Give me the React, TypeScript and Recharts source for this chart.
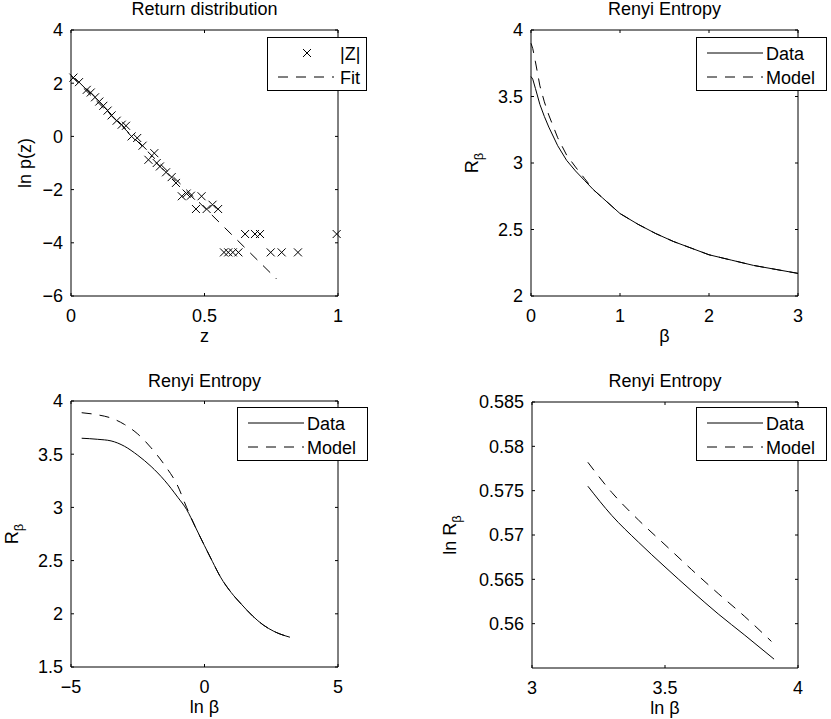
import React from 'react'
import { ComposedChart, Scatter, Line, XAxis, YAxis, Legend } from 'recharts'

const FONT = '"Liberation Sans", Arial, Helvetica, sans-serif'
const FS = 18
const DASH = '10 8'

// return distribution, |Z| histogram (ln of density) and linear fit
const zBins = [
  0.009, 0.03, 0.059, 0.074, 0.09, 0.106, 0.121, 0.137, 0.152, 0.171, 0.19, 0.206, 0.227, 0.248,
  0.268, 0.29, 0.312, 0.321, 0.333, 0.356, 0.377, 0.393, 0.415, 0.433, 0.449, 0.468, 0.489, 0.508,
  0.53, 0.551, 0.573, 0.589, 0.606, 0.627, 0.652, 0.689, 0.708, 0.748, 0.789, 0.85, 0.995,
]
const lnPz = [
  2.21, 2.04, 1.75, 1.65, 1.47, 1.31, 1.15, 0.97, 0.79, 0.59, 0.44, 0.4, 0.0, -0.06,
  -0.35, -0.88, -0.63, -1.0, -1.13, -1.35, -1.53, -1.75, -2.25, -2.15, -2.23, -2.73, -2.25, -2.73,
  -2.57, -2.73, -4.36, -4.36, -4.36, -4.36, -3.67, -3.67, -3.67, -4.36, -4.36, -4.36, -3.67,
]
const fitZ = [0, 0.77]
const fitLnP = [2.28, -5.36]

// Renyi entropy against beta
const beta = [0, 0.02, 0.05, 0.1, 0.15, 0.2, 0.3, 0.4, 0.5, 0.6, 0.7, 0.8, 0.9, 1.0, 1.2, 1.4, 1.6, 1.8, 2.0, 2.25, 2.5, 2.75, 3.0]
const rData = [3.65, 3.63, 3.56, 3.44, 3.35, 3.27, 3.13, 3.02, 2.94, 2.87, 2.8, 2.74, 2.68, 2.62, 2.54, 2.47, 2.41, 2.36, 2.31, 2.27, 2.23, 2.2, 2.17]
const rModel = [3.9, 3.86, 3.76, 3.58, 3.46, 3.36, 3.19, 3.06, 2.97, 2.885, 2.8, 2.74, 2.68, 2.62, 2.54, 2.47, 2.41, 2.36, 2.31, 2.27, 2.23, 2.2, 2.17]

// Renyi entropy against ln beta
const lnBeta = [-4.6, -4.0, -3.5, -3.0, -2.5, -2.0, -1.5, -1.0, -0.67, -0.35, 0, 0.3, 0.6, 1.0, 1.4, 1.8, 2.2, 2.6, 3.2]
const rDataLn = [3.65, 3.64, 3.625, 3.575, 3.49, 3.385, 3.255, 3.095, 2.98, 2.82, 2.64, 2.49, 2.345, 2.2, 2.085, 1.98, 1.895, 1.835, 1.78]
const rModelLn = [3.89, 3.87, 3.84, 3.78, 3.69, 3.56, 3.4, 3.2, 3.0, 2.82, 2.64, 2.49, 2.345, 2.2, 2.085, 1.98, 1.895, 1.835, 1.78]

// ln R against ln beta, tail
const lnBetaData = [3.21, 3.3, 3.4, 3.5, 3.6, 3.7, 3.8, 3.91]
const lnRData = [0.5755, 0.5722, 0.5692, 0.5664, 0.5637, 0.5611, 0.5587, 0.556]
const lnBetaModel = [3.21, 3.3, 3.4, 3.5, 3.6, 3.7, 3.8, 3.9]
const lnRModel = [0.5782, 0.5748, 0.5717, 0.5689, 0.5661, 0.5634, 0.5608, 0.558]

const zTicks = [0, 0.5, 1]
const lnPTicks = [-6, -4, -2, 0, 2, 4]
const betaTicks = [0, 1, 2, 3]
const rTicks = [2, 2.5, 3, 3.5, 4]
const lnBetaTicks = [-5, 0, 5]
const rLnTicks = [1.5, 2, 2.5, 3, 3.5, 4]
const tailTicks = [3, 3.5, 4]
const lnRTicks = [0.56, 0.565, 0.57, 0.575, 0.58, 0.585]

const fmt = (v: number) => (v < 0 ? '\u2212' + String(-v) : String(v))

const histRows = zBins.map((x, i) => ({ x, y: lnPz[i] }))
const fitRows = fitZ.map((x, i) => ({ x, y: fitLnP[i] }))
const betaRows = beta.map((x, i) => ({ x, data: rData[i], model: rModel[i] }))
const lnBetaRows = lnBeta.map((x, i) => ({ x, data: rDataLn[i], model: rModelLn[i] }))
const tailData = lnBetaData.map((x, i) => ({ x, y: lnRData[i] }))
const tailModel = lnBetaModel.map((x, i) => ({ x, y: lnRModel[i] }))

const Cross = (p: any) => {
  const { cx, cy } = p
  return <path d={`M${cx - 4},${cy - 4}L${cx + 4},${cy + 4}M${cx - 4},${cy + 4}L${cx + 4},${cy - 4}`} stroke="#000" strokeWidth={1} fill="none" />
}

// top and right axes close the box, ticks point inwards (MATLAB look)
function frame(xDomain: number[], xTicks: number[], yDomain: number[], yTicks: number[], yKey: string, title: string, titleY: number) {
  return [
    <XAxis
      key="top"
      xAxisId="top"
      orientation="top"
      mirror
      type="number"
      dataKey="x"
      domain={xDomain}
      ticks={xTicks}
      interval={0}
      allowDataOverflow
      tickSize={3}
      tickFormatter={() => ''}
      stroke="#000"
      label={(p: any) => (
        <text x={p.viewBox.x + p.viewBox.width / 2} y={titleY} textAnchor="middle" fontSize={FS} fill="#000">
          {title}
        </text>
      )}
    />,
    <YAxis
      key="right"
      yAxisId="right"
      orientation="right"
      mirror
      type="number"
      dataKey={yKey}
      domain={yDomain}
      ticks={yTicks}
      interval={0}
      allowDataOverflow
      tickSize={3}
      tickFormatter={() => ''}
      stroke="#000"
      width={4}
    />,
  ]
}

const xLabel = (content: React.ReactNode) => (p: any) => (
  <text x={p.viewBox.x + p.viewBox.width / 2} y={p.viewBox.y + 46} textAnchor="middle" fontSize={FS} fill="#000">
    {content}
  </text>
)

const yLabel = (dist: number, content: React.ReactNode) => (p: any) => {
  const x = p.viewBox.x + p.viewBox.width - dist
  const y = p.viewBox.y + p.viewBox.height / 2
  return (
    <text x={x} y={y} transform={`rotate(-90 ${x} ${y})`} textAnchor="middle" fontSize={FS} fill="#000">
      {content}
    </text>
  )
}

const Rb = (pre: string) => [
  <tspan key="a">{pre}R</tspan>,
  <tspan key="b" dy={5} fontSize={13}>β</tspan>,
]

const legendBox = (width: number, markX: number, textX: number) => (props: any) => {
  const items = props.payload || []
  return (
    <svg width={width} height={54} style={{ display: 'block', overflow: 'visible' }}>
      <rect x={0.5} y={0.5} width={width - 1} height={53} fill="#fff" stroke="#000" />
      {items.map((it: any, i: number) => {
        const cy = 16 + i * 24
        return (
          <g key={i}>
            {it.type === 'cross' ? (
              <Cross cx={markX} cy={cy} />
            ) : (
              <line x1={11} x2={67} y1={cy} y2={cy} stroke="#000" strokeDasharray={it.payload?.strokeDasharray} />
            )}
            <text x={textX} y={cy + 6.5} fontSize={FS} fill="#000">
              {it.value}
            </text>
          </g>
        )
      })}
    </svg>
  )
}

const order = ['|Z|', 'Fit', 'Data', 'Model']
const sorter = (it: any) => order.indexOf(it.value)

const axisCommon = {
  type: 'number' as const,
  interval: 0 as const,
  tickSize: -3,
  stroke: '#000',
  tick: { fill: '#000', fontSize: FS },
  tickFormatter: fmt,
}

export default function App() {
  return (
    <div style={{ position: 'fixed', left: 0, top: 0, width: 831, height: 719, background: '#fff', fontFamily: FONT }}>
      <div style={{ position: 'absolute', left: 0, top: 0 }}>
        <ComposedChart width={400} height={360} margin={{ top: 30, right: 62, bottom: 14, left: 0 }}>
          <XAxis {...axisCommon} dataKey="x" domain={[0, 1]} ticks={zTicks} height={50} tickMargin={16} label={xLabel('z')} />
          <YAxis {...axisCommon} dataKey="y" domain={[-6, 4]} ticks={lnPTicks} width={71} tickMargin={11} label={yLabel(40, 'ln p(z)')} />
          {frame([0, 1], zTicks, [-6, 4], lnPTicks, 'y', 'Return distribution', 15)}
          <Scatter name="|Z|" data={histRows} dataKey="y" shape={Cross} legendType="cross" isAnimationActive={false} />
          <Line name="Fit" data={fitRows} dataKey="y" type="linear" stroke="#000" strokeWidth={1} strokeDasharray={DASH} dot={false} activeDot={false} isAnimationActive={false} />
          <Legend layout="vertical" align="center" verticalAlign="middle" itemSorter={sorter} content={legendBox(100, 40, 73)} wrapperStyle={{ left: 267, top: 37, width: 100, height: 54 }} />
        </ComposedChart>
      </div>

      <div style={{ position: 'absolute', left: 440, top: 0 }}>
        <ComposedChart width={391} height={360} data={betaRows} margin={{ top: 30, right: 33, bottom: 14, left: 0 }}>
          <XAxis {...axisCommon} dataKey="x" domain={[0, 3]} ticks={betaTicks} height={50} tickMargin={16} label={xLabel('β')} />
          <YAxis {...axisCommon} domain={[2, 4]} ticks={rTicks} width={91} tickMargin={11} label={yLabel(53, Rb(''))} />
          {frame([0, 3], betaTicks, [2, 4], rTicks, 'data', 'Renyi Entropy', 15)}
          <Line name="Data" dataKey="data" type="linear" stroke="#000" strokeWidth={1} dot={false} activeDot={false} isAnimationActive={false} />
          <Line name="Model" dataKey="model" type="linear" stroke="#000" strokeWidth={1} strokeDasharray={DASH} dot={false} activeDot={false} isAnimationActive={false} />
          <Legend layout="vertical" align="center" verticalAlign="middle" itemSorter={sorter} content={legendBox(131, 40, 70)} wrapperStyle={{ left: 256, top: 37, width: 131, height: 54 }} />
        </ComposedChart>
      </div>

      <div style={{ position: 'absolute', left: 0, top: 360 }}>
        <ComposedChart width={400} height={359} data={lnBetaRows} margin={{ top: 41, right: 62, bottom: 2, left: 0 }}>
          <XAxis {...axisCommon} dataKey="x" domain={[-5, 5]} ticks={lnBetaTicks} height={50} tickMargin={16} label={xLabel('ln β')} />
          <YAxis {...axisCommon} domain={[1.5, 4]} ticks={rLnTicks} width={71} tickMargin={11} label={yLabel(53, Rb(''))} />
          {frame([-5, 5], lnBetaTicks, [1.5, 4], rLnTicks, 'data', 'Renyi Entropy', 27)}
          <Line name="Data" dataKey="data" type="monotone" stroke="#000" strokeWidth={1} dot={false} activeDot={false} isAnimationActive={false} />
          <Line name="Model" dataKey="model" type="monotone" stroke="#000" strokeWidth={1} strokeDasharray={DASH} dot={false} activeDot={false} isAnimationActive={false} />
          <Legend layout="vertical" align="center" verticalAlign="middle" itemSorter={sorter} content={legendBox(131, 40, 70)} wrapperStyle={{ left: 237, top: 47, width: 131, height: 54 }} />
        </ComposedChart>
      </div>

      <div style={{ position: 'absolute', left: 440, top: 360 }}>
        <ComposedChart width={391} height={359} margin={{ top: 42, right: 33, bottom: 1, left: 0 }}>
          <XAxis {...axisCommon} dataKey="x" domain={[3, 4]} ticks={tailTicks} height={50} tickMargin={16} label={xLabel('ln β')} />
          <YAxis {...axisCommon} dataKey="y" domain={[0.555, 0.585]} ticks={lnRTicks} width={92} tickMargin={11} label={yLabel(76, Rb('ln '))} />
          {frame([3, 4], tailTicks, [0.555, 0.585], lnRTicks, 'y', 'Renyi Entropy', 27)}
          <Line name="Data" data={tailData} dataKey="y" type="monotone" stroke="#000" strokeWidth={1} dot={false} activeDot={false} isAnimationActive={false} />
          <Line name="Model" data={tailModel} dataKey="y" type="monotone" stroke="#000" strokeWidth={1} strokeDasharray={DASH} dot={false} activeDot={false} isAnimationActive={false} />
          <Legend layout="vertical" align="center" verticalAlign="middle" itemSorter={sorter} content={legendBox(131, 40, 70)} wrapperStyle={{ left: 256, top: 47, width: 131, height: 54 }} />
        </ComposedChart>
      </div>
    </div>
  )
}
